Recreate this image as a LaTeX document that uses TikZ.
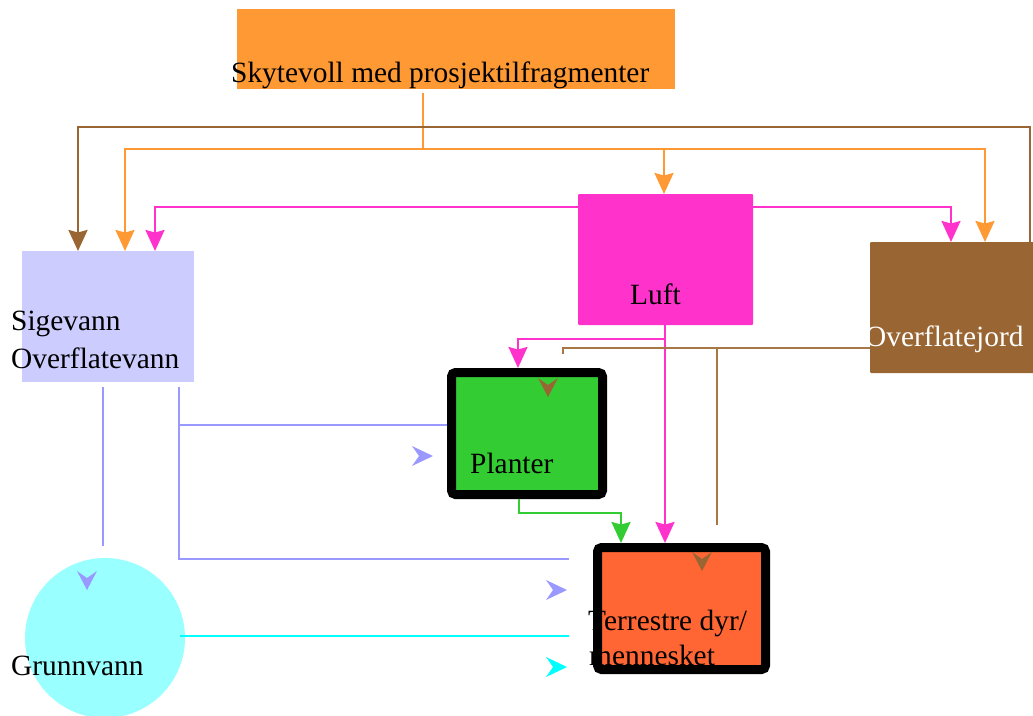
\documentclass[tikz,border=0pt]{standalone}
\usepackage{fontspec}
\setmainfont{Liberation Serif}
\usetikzlibrary{arrows.meta}
\definecolor{cOrange}{HTML}{FF9933}
\definecolor{cMag}{HTML}{FF33CC}
\definecolor{cBrown}{HTML}{996633}
\definecolor{cBrownLine}{HTML}{A87746}
\definecolor{cLav}{HTML}{CCCCFF}
\definecolor{cLavLine}{HTML}{9999FF}
\definecolor{cGreen}{HTML}{33CC33}
\definecolor{cRed}{HTML}{FF6633}
\definecolor{cCyan}{HTML}{99FFFF}
\definecolor{cCyanLine}{HTML}{00FFFF}
\begin{document}
\begin{tikzpicture}[x=1pt,y=-1pt,
  flatbox/.style={inner sep=0pt, outer sep=0pt, draw=none, rectangle},
  heavybox/.style={inner sep=0pt, draw=black, line width=9pt, rounded corners=4pt, rectangle},
  lbl/.style={anchor=base west, inner sep=0pt, font=\fontsize{29.4}{34}\selectfont},
  conn/.style={line width=2.2pt, -{Stealth[length=21pt,width=19pt,inset=2.5pt]}},
  plainline/.style={line width=2.2pt}]
\useasboundingbox (0,0) rectangle (1033,715);

% boxes
\node[flatbox, fill=cOrange, minimum width=438pt, minimum height=80pt] (src) at (455.5,48.5) {};
\node[flatbox, fill=cMag, minimum width=175pt, minimum height=131pt, rounded corners=1pt] (luft) at (665.5,259.5) {};
\node[flatbox, fill=cBrown, minimum width=167pt, minimum height=131pt, rounded corners=1pt] (soil) at (953.5,307.5) {};
\node[flatbox, fill=cLav, minimum width=172pt, minimum height=131pt] (sige) at (108,316.5) {};
\node[heavybox, fill=cGreen, minimum width=151pt, minimum height=122pt] (plant) at (527,433.5) {};
\node[heavybox, fill=cRed, minimum width=168pt, minimum height=122pt] (terr) at (681.5,608.5) {};
\node[circle, fill=cCyan, inner sep=0pt, outer sep=0pt, minimum size=160pt] (grund) at (105,638) {};

% orange connectors
\coordinate (oj) at (423,149);
\draw[plainline, cOrange] (423,93) -- (oj);
\draw[conn, cOrange] (oj) -| (sige.north -| 125,0);
\draw[conn, cOrange] (oj) -| (luft.north -| 664,0);
\draw[conn, cOrange] (oj) -| (soil.north -| 985,0);

% brown connector from Overflatejord to Sigevann
\draw[conn, cBrown, line width=2.6pt] (soil.north -| 1030,0) -- (1030,127) -| (sige.north -| 78,0);

% magenta connectors from Luft
\draw[conn, cMag] (luft.west |- 0,207) -| (sige.north -| 155,0);
\draw[conn, cMag] (luft.east |- 0,207) -| (soil.north -| 951,0);
\draw[conn, cMag] (luft.south -| 665,0) -- (terr.north -| 665,0);
\draw[conn, cMag] (665,339) -| (plant.north -| 518,0);

% brown connectors from Overflatejord (detached heads)
\coordinate (bj) at (717,348);
\draw[plainline, cBrownLine] (soil.west |- 0,348) -| (563,354);
\draw[plainline, cBrownLine] (bj) -- (717,525);
\fill[cBrown] (548,397) -- ++(-10,-19) -- ++(10,7) -- ++(10,-7) -- cycle;
\fill[cBrown] (702,571) -- ++(-10,-19) -- ++(10,7) -- ++(10,-7) -- cycle;

% lavender connectors from Sigevann
\draw[plainline, cLavLine] (sige.south -| 103,0) ++(0,5) -- (103,546);
\draw[plainline, cLavLine] (sige.south -| 179,0) ++(0,5) |- (569,559);
\draw[plainline, cLavLine] (179,425) -- (plant.west |- 0,425);
\fill[cLavLine] (87,590) -- ++(-10,-19) -- ++(10,7) -- ++(10,-7) -- cycle;
\fill[cLavLine] (433,456) -- ++(-21,-10) -- ++(7,10) -- ++(-7,10) -- cycle;
\fill[cLavLine] (567,590) -- ++(-21,-10) -- ++(7,10) -- ++(-7,10) -- cycle;

% green connector
\draw[conn, cGreen] (plant.south -| 519,0) -- (519,513) -| (terr.north -| 621,0);

% cyan connector
\draw[plainline, cCyanLine] (569,636) -- (180,636);
\fill[cCyanLine] (567,667) -- ++(-21,-10) -- ++(7,10) -- ++(-7,10) -- cycle;

% labels
\node[lbl] (tsrc) at (231,82) {Skytevoll med prosjektilfragmenter};
\node[lbl] (tluft) at (630,304) {Luft};
\node[lbl, text=white] (tsoil) at (865,346) {Overflatejord};
\node[lbl] (tsige1) at (11,330) {Sigevann};
\node[lbl] (tsige2) at (11,368) {Overflatevann};
\node[lbl] (tplant) at (470,473) {Planter};
\node[lbl] (tterr1) at (588,630) {Terrestre dyr/};
\node[lbl] (tterr2) at (589,665) {mennesket};
\node[lbl] (tgrund) at (11,675) {Grunnvann};
\end{tikzpicture}
\end{document}
